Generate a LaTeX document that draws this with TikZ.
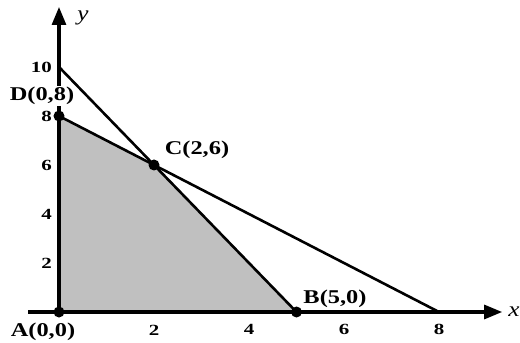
\documentclass[tikz,border=0pt]{standalone}
\usepackage{fontspec}
\setmainfont{Liberation Serif}
\usetikzlibrary{arrows.meta}
\begin{document}
\begin{tikzpicture}[x=47.5bp,y=24.5bp,
  axis/.style={line width=3bp,-{Triangle[length=18bp,width=14bp]}},
  constraint/.style={line width=2.6bp},
  tick/.style={inner sep=0pt,font=\fontsize{15.5bp}{18bp}\selectfont\bfseries},
  ptlabel/.style={inner sep=1pt,font=\fontsize{19.5bp}{22bp}\selectfont\bfseries},
  axlabel/.style={inner sep=0pt,font=\fontsize{21bp}{24bp}\selectfont\itshape},
  dot/.style={circle,fill=black,inner sep=0pt,minimum size=11bp}]
\useasboundingbox (-1.2421,-1.2653) rectangle (9.7053,12.7347);
% coordinates
\coordinate (A) at (0,0);
\coordinate (B) at (5,0);
\coordinate (C) at (2,6);
\coordinate (D) at (0,8);
\coordinate (Y10) at (0,10);
\coordinate (X8) at (8,0);
\coordinate (xs) at (-0.65,0);
\coordinate (xe) at (9.33,0);
\coordinate (ye) at (0,12.45);
% feasible region
\fill[fill={rgb,255:red,192;green,192;blue,192}] (A) -- (B) -- (C) -- (D) -- cycle;
% axes
\draw[axis] (xs) -- (xe);
\draw[axis] (A) -- (ye);
\node[axlabel] (xl) at (9.58,0) {\scalebox{1.2}[1]{x}};
\node[axlabel] (yl) at (0.505,12.0) {\scalebox{1.2}[1]{y}};
% tick labels
\foreach \v in {2,4,6,8}{
  \node[tick] (tx\v) at (\v,-0.73) {\scalebox{1.35}[1]{\v}};
}
\foreach \v in {2,4,6,8,10}{
  \node[tick,anchor=east] (ty\v) at ([xshift=-7bp]0,\v) {\scalebox{1.35}[1]{\v}};
}
% point label D with white background over the axis
\node[ptlabel,fill=white] (Dl) at (-0.358,8.82) {\scalebox{1.25}[1]{D(0,8)}};
% constraint lines
\draw[constraint] (Y10) -- (B);
\draw[constraint] (D) -- (X8);
% dots
\node[dot] (Ad) at (A) {};
\node[dot] (Bd) at (B) {};
\node[dot] (Cd) at (C) {};
\node[dot] (Dd) at (D) {};
% point labels
\node[ptlabel] (Al) at (-0.337,-0.816) {\scalebox{1.25}[1]{A(0,0)}};
\node[ptlabel] (Bl) at (5.81,0.53) {\scalebox{1.25}[1]{B(5,0)}};
\node[ptlabel] (Cl) at (2.905,6.61) {\scalebox{1.25}[1]{C(2,6)}};
\end{tikzpicture}
\end{document}
